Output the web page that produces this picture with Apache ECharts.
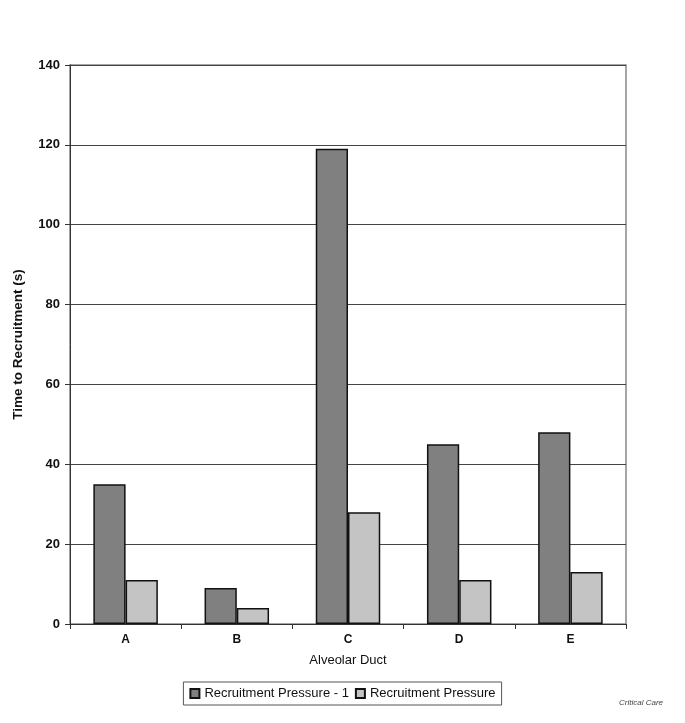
<!DOCTYPE html>
<html><head><meta charset="utf-8">
<script src="https://cdn.jsdelivr.net/npm/echarts@6/dist/echarts.min.js"></script>
<style>html,body{margin:0;padding:0;background:#fff}#c{width:685px;height:723px}</style>
</head><body><div id="c"></div>
<script>
const categories = ['A','B','C','D','E'];
const seriesNames = ['Recruitment Pressure - 1','Recruitment Pressure'];
const pressureMinus1 = [35, 9, 119, 45, 48];
const pressure = [11, 4, 28, 11, 13];
const yTicks = [0,20,40,60,80,100,120,140];

const chart = echarts.init(document.getElementById('c'));
const font = 'Liberation Sans, Arial, sans-serif';
chart.setOption({
  animation:false,
  backgroundColor:'#fff',
  grid:{left:70,right:59,top:65,bottom:99,show:true,borderColor:'#888',borderWidth:1.5},
  legend:{
    data:seriesNames, bottom:18, left:'center',
    borderColor:'#555', borderWidth:1, padding:[5,6,5,6],
    itemWidth:9,itemHeight:9,itemGap:6,icon:'rect',
    textStyle:{fontFamily:font,fontSize:13,color:'#111'}
  },
  xAxis:{
    type:'category', data:categories,
    name:'Alveolar Duct', nameLocation:'middle', nameGap:30,
    nameTextStyle:{fontFamily:font,fontSize:13,color:'#111'},
    axisLine:{lineStyle:{color:'#333',width:1}},
    axisTick:{show:true,alignWithLabel:false,length:5,lineStyle:{color:'#333'}},
    axisLabel:{fontFamily:font,fontSize:12,color:'#111',fontWeight:'bold',margin:10}
  },
  yAxis:{
    type:'value', min:0, max:140, interval:20,
    name:'Time to Recruitment (s)', nameLocation:'middle', nameGap:45, nameRotate:90,
    nameTextStyle:{fontFamily:font,fontSize:13.5,color:'#111',fontWeight:'bold'},
    axisLine:{show:true,lineStyle:{color:'#333',width:1}},
    axisTick:{show:true,length:5,lineStyle:{color:'#333'}},
    axisLabel:{fontFamily:font,fontSize:13,color:'#111',fontWeight:'bold',margin:10,
      formatter:v=>yTicks.includes(v)?String(v):''},
    splitLine:{show:true,lineStyle:{color:'#444',width:1}}
  },
  series:[
    {name:seriesNames[0],type:'bar',data:pressureMinus1,barGap:'0%',barCategoryGap:'42%',
     itemStyle:{color:'#808080',borderColor:'#111',borderWidth:1.5}},
    {name:seriesNames[1],type:'bar',data:pressure,
     itemStyle:{color:'#c4c4c4',borderColor:'#111',borderWidth:1.5}}
  ],
  graphic:[{type:'text',right:22,bottom:16,style:{text:'Critical Care',fontFamily:font,fontSize:8,fontStyle:'italic',fill:'#444'}}]
});
</script></body></html>
